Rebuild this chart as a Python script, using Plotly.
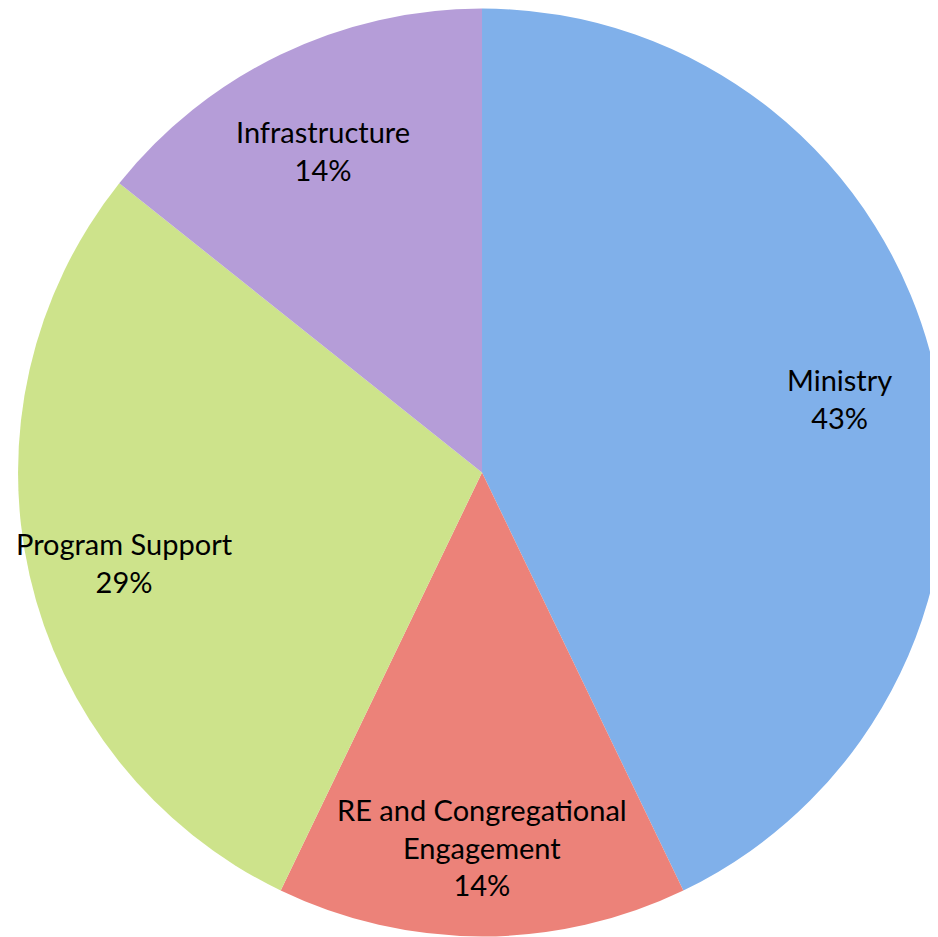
import math
import plotly.graph_objects as go

labels = ["Ministry", "RE and Congregational<br>Engagement", "Program Support", "Infrastructure"]
values = [3, 1, 2, 1]
colors = ["#80b0ea", "#ec8279", "#cde38b", "#b59dd8"]

W, H = 938, 937
dom_x = [0.0107, 1.0]
dom_y = [0.0085, 1.0]

fig = go.Figure(go.Pie(
    labels=labels,
    values=values,
    sort=False,
    direction="clockwise",
    rotation=0,
    marker=dict(colors=colors, line=dict(width=0)),
    textinfo="none",
    domain=dict(x=dom_x, y=dom_y),
    showlegend=False,
    hoverinfo="label+percent",
))

# label positions derived from the slice values (mid-angle of each slice)
total = sum(values)
r_px = min((dom_x[1] - dom_x[0]) * W, (dom_y[1] - dom_y[0]) * H) / 2
cx = (dom_x[0] + dom_x[1]) / 2
cy = (dom_y[0] + dom_y[1]) / 2
label_r = 0.79 * r_px
cum = 0
for lab, v in zip(labels, values):
    mid = (cum + v / 2) / total * 2 * math.pi
    cum += v
    x = cx + label_r * math.sin(mid) / W
    y = cy + label_r * math.cos(mid) / H
    pct = round(100 * v / total)
    fig.add_annotation(
        x=x, y=y, xref="paper", yref="paper",
        text=f"{lab}<br>{pct}%",
        showarrow=False, xanchor="center", yanchor="middle", yshift=-8,
        font=dict(family="Lato, Open Sans, sans-serif", size=29, color="#000000"),
    )

fig.update_layout(
    width=W, height=H,
    margin=dict(l=0, r=0, t=0, b=0),
    paper_bgcolor="white",
    plot_bgcolor="white",
)

fig.write_html("out.html")
